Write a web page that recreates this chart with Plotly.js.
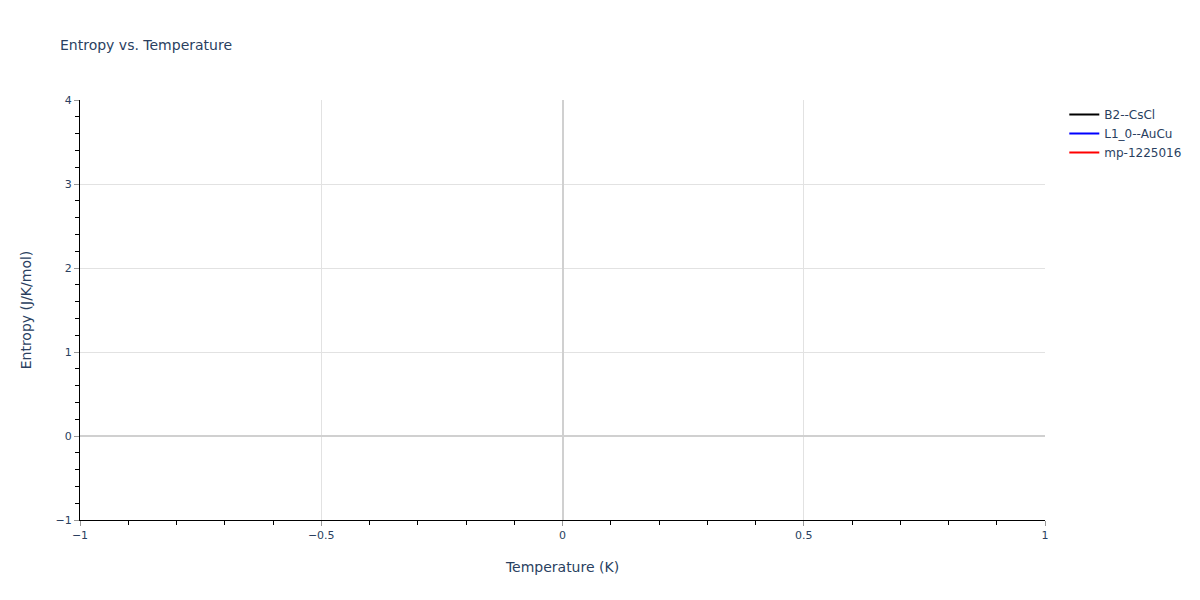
<!DOCTYPE html>
<html>
<head>
<meta charset="utf-8">
<script src="https://cdn.plot.ly/plotly-3.0.1.min.js"></script>
<style>body{margin:0}#graphDiv{width:1200px;height:600px}</style>
</head>
<body>
<div id="graphDiv"></div>
<script>
// series names and (empty) values
const seriesNames = ['B2--CsCl', 'L1_0--AuCu', 'mp-1225016'];
const seriesColors = ['black', 'blue', 'red'];
const temperature = [[null], [null], [null]];
const entropy = [[null], [null], [null]];

const data = seriesNames.map((name, i) => ({
	type: 'scatter',
	mode: 'lines',
	name: name,
	showlegend: true,
	x: temperature[i],
	y: entropy[i],
	line: { color: seriesColors[i] },
}));

const axisStyle = {
	showline: true,
	linecolor: 'black',
	linewidth: 1,
	ticks: 'outside',
	tickcolor: '#999',
	ticklen: 5,
	tickfont: { size: 11 },
	gridcolor: '#e2e2e2',
	zeroline: true,
	zerolinecolor: '#d0d0d0',
	zerolinewidth: 2,
	minor: { ticks: 'outside', ticklen: 4, tickcolor: 'black', showgrid: false },
};

const layout = {
	font: { family: 'DejaVu Sans', color: '#2a3f5f', size: 12 },
	title: { text: 'Entropy vs. Temperature', x: 0.05, font: { size: 14 } },
	paper_bgcolor: 'white',
	plot_bgcolor: 'white',
	showlegend: true,
	legend: { font: { size: 12 } },
	margin: { l: 80, r: 155, t: 100, b: 80 },
	xaxis: Object.assign({}, axisStyle, {
		title: { text: 'Temperature (K)', font: { size: 14 } },
		range: [-1, 1],
		dtick: 0.5,
		minor: Object.assign({}, axisStyle.minor, { dtick: 0.1 }),
	}),
	yaxis: Object.assign({}, axisStyle, {
		title: { text: 'Entropy (J/K/mol)', font: { size: 14 }, standoff: 20 },
		range: [-1, 4],
		dtick: 1,
		minor: Object.assign({}, axisStyle.minor, { dtick: 0.2 }),
	}),
};

Plotly.newPlot('graphDiv', data, layout, { displayModeBar: false });
</script>
</body>
</html>
